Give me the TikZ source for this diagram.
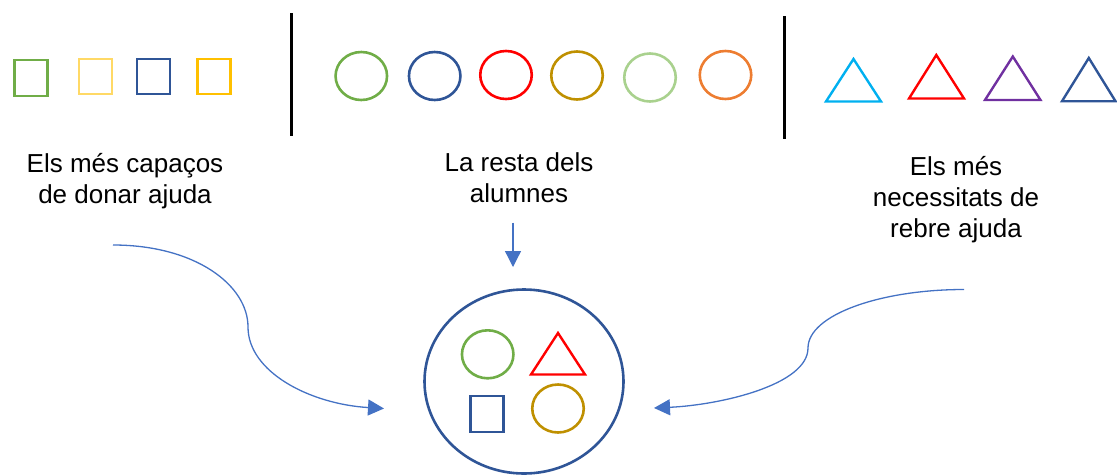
\documentclass[tikz,border=0pt]{standalone}
\usepackage{fontspec}
\setmainfont{Liberation Sans}
\usetikzlibrary{arrows.meta,shapes.geometric}
\definecolor{cgreen}{HTML}{70AD47}
\definecolor{cltyellow}{HTML}{FFD966}
\definecolor{cblue}{HTML}{2F5597}
\definecolor{cgold}{HTML}{FFC000}
\definecolor{cred}{HTML}{FF0000}
\definecolor{cdkgold}{HTML}{BF9000}
\definecolor{cltgreen}{HTML}{A9D18E}
\definecolor{corange}{HTML}{ED7D31}
\definecolor{ccyan}{HTML}{00B0F0}
\definecolor{cpurple}{HTML}{7030A0}
\definecolor{carrow}{HTML}{4472C4}
\tikzset{
  sq/.style={draw=#1, line width=2.4pt, minimum width=33pt, minimum height=35.5pt, inner sep=0pt},
  ov/.style={draw=#1, ellipse, line width=2.6pt, minimum width=51.5pt, minimum height=48pt, inner sep=0pt},
  tri/.style={draw=#1, line width=2.4pt, line join=miter},
  sep/.style={line width=3pt, black},
  lbl/.style={align=center, inner sep=0pt, anchor=north, font=\fontsize{26}{31}\selectfont},
  arr/.style={carrow, line width=1.3pt, -{Triangle[length=16pt,width=16pt]}},
}
\begin{document}
\begin{tikzpicture}[x=1pt,y=-1pt]
\useasboundingbox (0,0) rectangle (1117,475);
% squares
\node[sq=cgreen] (s1) at (31,78) {};
\node[sq=cltyellow] (s2) at (95.5,76.5) {};
\node[sq=cblue] (s3) at (153.5,76.5) {};
\node[sq=cgold] (s4) at (214,76.5) {};
% separators
\draw[sep] (291.5,13) -- (291.5,136);
\draw[sep] (784,16) -- (784,139);
% circles
\node[ov=cgreen] (c1) at (361.3,76) {};
\node[ov=cblue] (c2) at (434.7,76) {};
\node[ov=cred] (c3) at (506,75) {};
\node[ov=cdkgold] (c4) at (577,75.5) {};
\node[ov=cltgreen] (c5) at (650,77.5) {};
\node[ov=corange] (c6) at (725.5,75) {};
% triangles
\draw[tri=ccyan] (853.5,59) -- (881,101.5) -- (826,101.5) -- cycle;
\draw[tri=cred] (936.3,55) -- (964,98.5) -- (909,98.5) -- cycle;
\draw[tri=cpurple] (1012.8,56.5) -- (1040.5,100) -- (985,100) -- cycle;
\draw[tri=cblue] (1088.8,58) -- (1115.5,101.2) -- (1062,101.2) -- cycle;
% labels
\node[lbl] (t1) at (125,153) {Els més capaços\\de donar ajuda};
\node[lbl] (t2) at (519,152.5) {La resta dels\\alumnes};
\node[lbl] (t3) at (956,156) {Els més\\necessitats de\\rebre ajuda};
% group
\node[draw=cblue, ellipse, line width=2.6pt, minimum width=199pt, minimum height=184pt, inner sep=0pt] (grp) at (524,381.5) {};
\node[ov=cgreen] (g1) at (487.7,354.3) {};
\draw[tri=cred] (558,333) -- (585,374.5) -- (531,374.5) -- cycle;
\node[sq=cblue] (g3) at (487,414) {};
\node[ov=cdkgold] (g4) at (558,408.5) {};
% arrows
\coordinate (dstart) at (513,222.5);
\coordinate (dend) at (513,267);
\draw[arr] (dstart) -- (dend);
\coordinate (lstart) at (113,245);
\coordinate (lmid) at (248,327);
\coordinate (lend) at (384,408.5);
\draw[arr] (lstart) .. controls (195,245) and (248,285) .. (lmid) .. controls (248,372) and (310,404) .. (lend);
\coordinate (rstart) at (964,289.5);
\coordinate (rmid) at (808,348);
\coordinate (rend) at (654,408);
\draw[arr] (rstart) .. controls (880,289.5) and (808,315) .. (rmid) .. controls (808,385) and (720,405) .. (rend);
\end{tikzpicture}
\end{document}
